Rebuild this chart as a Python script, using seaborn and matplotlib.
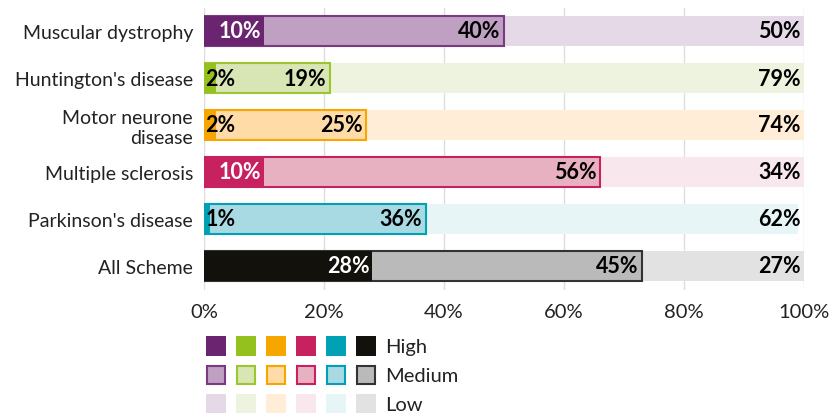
import matplotlib
matplotlib.use("Agg")
import matplotlib.pyplot as plt
import seaborn as sns
import pandas as pd
from matplotlib.patches import Rectangle

categories = ["Muscular dystrophy", "Huntington's disease", "Motor neurone\ndisease",
              "Multiple sclerosis", "Parkinson's disease", "All Scheme"]
high = [10, 2, 2, 10, 1, 28]
medium = [40, 19, 25, 56, 36, 45]
low = [50, 79, 74, 34, 62, 27]
xticks = [0, 20, 40, 60, 80, 100]
xticklabels = ["0%", "20%", "40%", "60%", "80%", "100%"]
level_names = ["High", "Medium", "Low"]

high_colors = ["#6B2570", "#95C11F", "#F7A600", "#C8215F", "#00A0B5", "#12110C"]
med_colors = ["#BFA0C3", "#D8E6B5", "#FFDBA8", "#E8B1C2", "#A8DAE3", "#BABABA"]
low_colors = ["#E5D9E7", "#EDF3DE", "#FFEDD8", "#F8E7EC", "#E7F5F7", "#E2E2E2"]
med_edges = ["#7A3A80", "#9DC530", "#F7A600", "#C8215F", "#00A0B5", "#333333"]
high_text = ["white", "black", "black", "white", "black", "white"]

sns.set_theme(style="white")
plt.rcParams["font.family"] = ["Lato", "DejaVu Sans"]

W, H = 837, 414
fig = plt.figure(figsize=(W / 100, H / 100), dpi=100)
ax = fig.add_axes([204 / W, 1 - 290.5 / H, 600 / W, 282 / H])

df = pd.DataFrame({"cat": categories, "high": high, "medium": medium, "low": low})
df["hm"] = df["high"] + df["medium"]
df["total"] = df["hm"] + df["low"]

bw = 0.64
layers = [("total", low_colors, None), ("hm", med_colors, med_edges), ("high", high_colors, None)]
for col, fcs, ecs in layers:
    n_before = len(ax.patches)
    sns.barplot(data=df, x=col, y="cat", orient="h", color="gray", width=bw,
                errorbar=None, ax=ax, zorder=2)
    new = ax.patches[n_before:]
    for i, p in enumerate(new):
        p.set_facecolor(fcs[i])
        if ecs is None:
            p.set_edgecolor("none")
            p.set_linewidth(0)
        else:
            p.set_edgecolor(ecs[i])
            p.set_linewidth(1.5)

fs = 14
vfs = 15.5
for i in range(len(categories)):
    h, m = df["high"][i], df["medium"][i]
    if h >= 5:
        ax.text(h - 0.4, i, f"{h}%", ha="right", va="center", color=high_text[i],
                fontsize=vfs, fontweight="bold", zorder=5)
    else:
        ax.text(0.2, i, f"{h}%", ha="left", va="center", color=high_text[i],
                fontsize=vfs, fontweight="bold", zorder=5)
    ax.text(h + m - 0.6, i, f"{m}%", ha="right", va="center", color="black",
            fontsize=vfs, fontweight="bold", zorder=5)
    ax.text(99.4, i, f"{df['low'][i]}%", ha="right", va="center", color="black",
            fontsize=vfs, fontweight="bold", zorder=5)

ax.set_xlim(0, 100)
ax.set_ylim(5.5, -0.5)
ax.set_xticks(xticks)
ax.set_xticklabels(xticklabels, fontsize=14.5, color="#222222")
ax.tick_params(axis="y", labelsize=fs, colors="#222222", length=0, pad=8)
ax.tick_params(axis="x", length=0, pad=10)
ax.set_xlabel("")
ax.set_ylabel("")
for lbl in ax.get_yticklabels():
    lbl.set_multialignment("right")
ax.grid(axis="x", color="#DDDDDD", linewidth=1, zorder=0)
ax.set_axisbelow(True)
for s in ax.spines.values():
    s.set_visible(False)

# legend
lax = fig.add_axes([0, 0, 1, 1], facecolor="none")
lax.set_xlim(0, W)
lax.set_ylim(H, 0)
lax.axis("off")
rows = [(high_colors, None), (med_colors, med_edges), (low_colors, None)]
row_y = [347, 376, 405]
for r, (fcs, ecs) in enumerate(rows):
    for j in range(len(fcs)):
        x0 = 206 + j * 30
        y0 = row_y[r] - 10
        if ecs is None:
            lax.add_patch(Rectangle((x0, y0), 20, 20, facecolor=fcs[j], edgecolor="none"))
        else:
            lax.add_patch(Rectangle((x0 + 0.75, y0 + 0.75), 18.5, 18.5, facecolor=fcs[j],
                                    edgecolor=ecs[j], linewidth=1.5))
    lax.text(385, row_y[r] + 1, level_names[r], ha="left", va="center", fontsize=14.5, color="#222222")

fig.savefig("out.png", dpi=100)
